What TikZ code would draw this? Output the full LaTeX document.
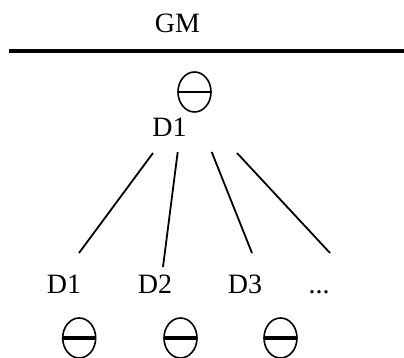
\documentclass[tikz,border=0pt]{standalone}
\usepackage{fontspec}
\setmainfont{Liberation Serif}
\usetikzlibrary{shapes.geometric}
\tikzset{
  lbl/.style={anchor=base,inner sep=0pt,font=\fontsize{28}{32}\selectfont},
  disc/.style={ellipse,draw,line width=1.6pt,inner sep=0pt,
    minimum width=33pt,minimum height=40pt,
    path picture={\draw[line width=#1] (path picture bounding box.west) -- (path picture bounding box.east);}},
  disc/.default=2.2pt,
  link/.style={line width=1.8pt},
}

\begin{document}
\begin{tikzpicture}[x=1pt,y=-1pt]
  \useasboundingbox (0,0) rectangle (404,358);
  \node[lbl] (gm) at (177.5,33) {GM};
  \draw[line width=3.8pt] (9,51) -- (404,51);
  % root
  \node[disc] (top) at (194.5,92) {};
  \node[lbl] (root) at (169.5,137) {D1};
  % children
  \node[lbl] (d1) at (64,293) {D1};
  \node[lbl] (d2) at (155,293) {D2};
  \node[lbl] (d3) at (245,293) {D3};
  \node[lbl] (dn) at (319,293) {...};
  \node[disc=3.2pt] (c1) at (79.2,338) {};
  \node[disc=3.2pt] (c2) at (180.5,338) {};
  \node[disc=3.2pt] (c3) at (280.5,338) {};
  % fan of links
  \coordinate (s1) at (153,153);   \coordinate (e1) at (79,253);
  \coordinate (s2) at (177.7,152); \coordinate (e2) at (163,267);
  \coordinate (s3) at (211.7,152); \coordinate (e3) at (252,253);
  \coordinate (s4) at (237,153);   \coordinate (e4) at (330,253);
  \draw[link] (s1) -- (e1);
  \draw[link] (s2) -- (e2);
  \draw[link] (s3) -- (e3);
  \draw[link] (s4) -- (e4);
\end{tikzpicture}
\end{document}
